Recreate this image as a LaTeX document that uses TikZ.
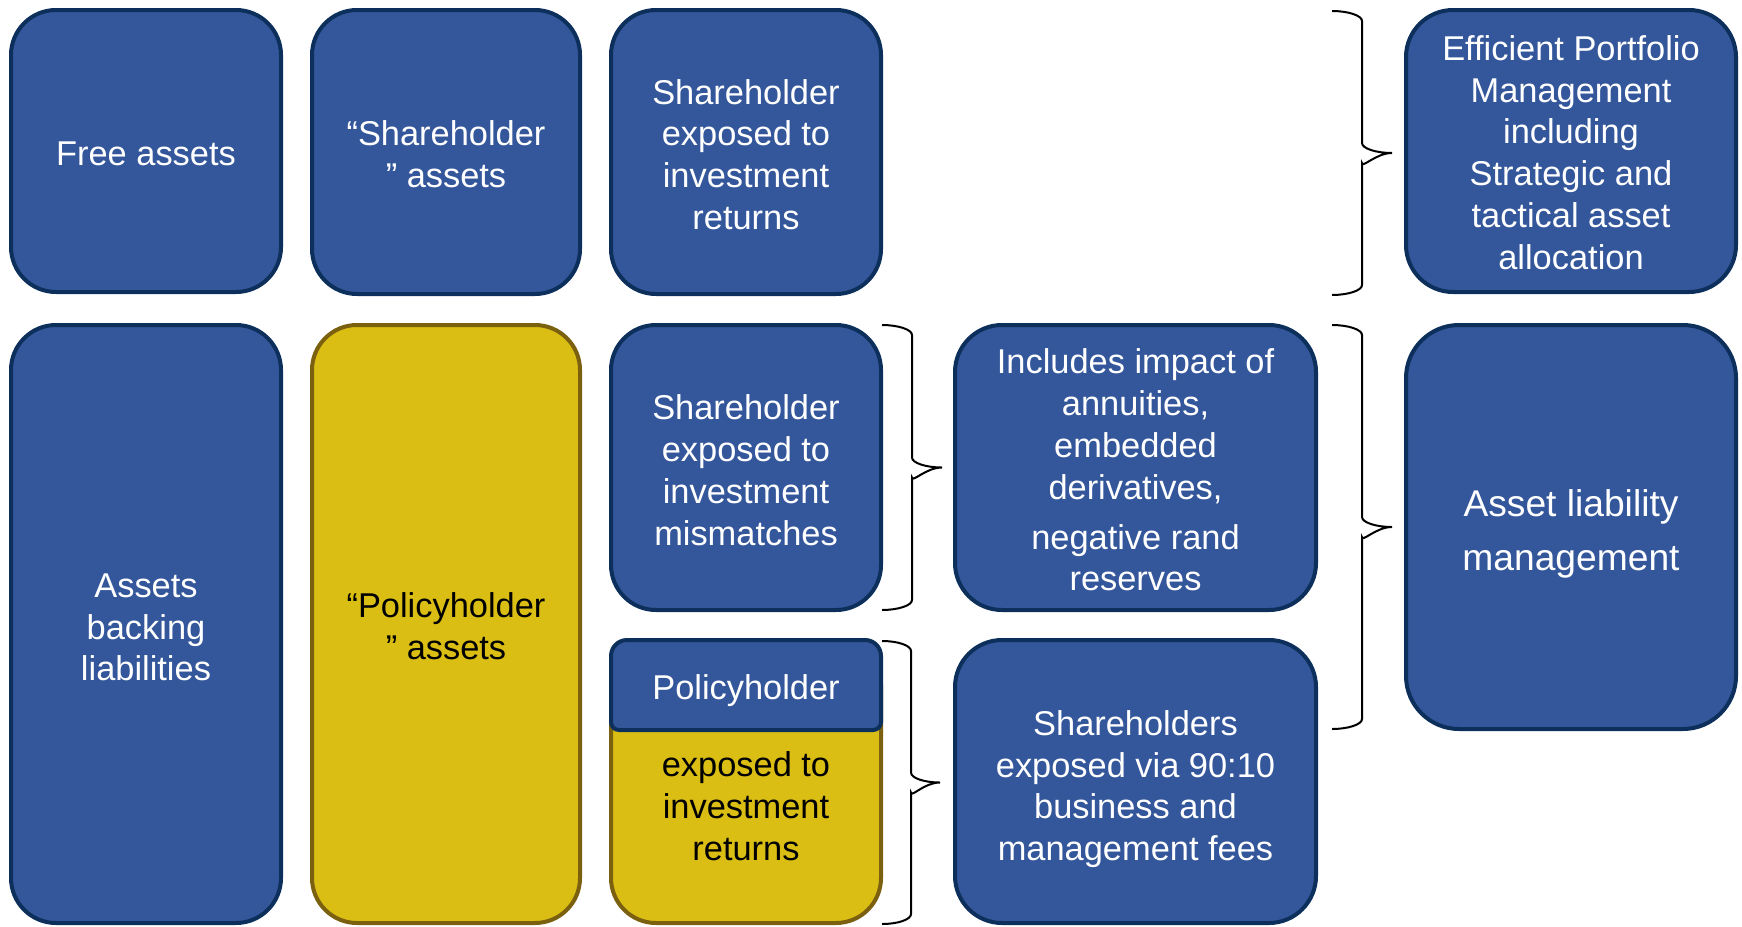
\documentclass[tikz,border=0pt]{standalone}
\usepackage{fontspec}
\setmainfont{Liberation Sans}
\definecolor{boxblue}{HTML}{34579B}
\definecolor{boxnavy}{HTML}{0D2F5B}
\definecolor{boxgold}{HTML}{DABE14}
\definecolor{boxolive}{HTML}{7A600F}
% right-hand curly brace: left x, top y, bottom y, width
\newcommand\drawbrace[4]{%
  \pgfmathsetmacro\bxm{#1+#4/2}%
  \pgfmathsetmacro\bxt{#1+#4}%
  \pgfmathsetmacro\bym{(#2+#3)/2}%
  \draw[bracestyle] (#1,#2) .. controls +(16,0) and +(0,-5.5) .. (\bxm,#2+10)
    -- (\bxm,\bym-10) .. controls +(0,5.5) and +(-16,0) .. (\bxt,\bym)
    .. controls +(-16,0) and +(0,5.5) .. (\bxm,\bym+10)
    -- (\bxm,#3-10) .. controls +(0,5.5) and +(16,0) .. (#1,#3);
}
\begin{document}
\begin{tikzpicture}[x=1pt,y=-1pt,
  txt/.style={align=center, inner sep=0pt, font=\fontsize{34.4}{41.8}\selectfont},
  wtxt/.style={txt, text=white},
  bigtxt/.style={wtxt, font=\fontsize{37.2}{54}\selectfont},
  box/.style={rectangle, draw=boxnavy, fill=boxblue, line width=4pt, inner sep=0pt},
  goldbox/.style={rectangle, draw=boxolive, fill=boxgold, line width=4pt, inner sep=0pt},
  bracestyle/.style={draw=black, line width=2pt}
]
\useasboundingbox (0,0) rectangle (1742,926);

% top row
\node[box, rounded corners=45pt, minimum width=270pt, minimum height=282pt] (free) at (146,151) {};
\node[box, rounded corners=45pt, minimum width=268pt, minimum height=284pt] (shasset) at (446,152) {};
\node[box, rounded corners=45pt, minimum width=270pt, minimum height=284pt] (shret) at (746,152) {};
\node[box, rounded corners=47pt, minimum width=330pt, minimum height=282pt] (epm) at (1571,151) {};

% lower rows
\node[box, rounded corners=45pt, minimum width=270pt, minimum height=598pt] (abl) at (146,624) {};
\node[goldbox, rounded corners=45pt, minimum width=268pt, minimum height=598pt] (phasset) at (446,624) {};
\node[box, rounded corners=45pt, minimum width=270pt, minimum height=285pt] (shmis) at (746,467.5) {};
\node[box, rounded corners=47pt, minimum width=361pt, minimum height=285pt] (incl) at (1135.5,467.5) {};
\node[box, rounded corners=53pt, minimum width=330pt, minimum height=404pt] (alm) at (1571,527) {};
\node[goldbox, rounded corners=45pt, minimum width=270pt, minimum height=283pt] (phbox) at (746,781.5) {};
\node[box, rounded corners=47pt, minimum width=361pt, minimum height=283pt] (sh9010) at (1135.5,781.5) {};

% blue heading over the policyholder box
\draw[draw=boxnavy, fill=boxblue, line width=4pt]
  (611,690) [rounded corners=16pt] -- (611,640) -- (881,640) -- (881,690)
  [rounded corners=8pt] -- (881,730) -- (611,730) -- cycle;

% box texts
\node[wtxt] (free-t) at (146,153.5) {Free assets};
\node[wtxt] (shasset-t) at (446,154) {“Shareholder\\” assets};
\node[wtxt] (shret-t) at (746,154.5) {Shareholder\\exposed to\\investment\\returns};
\node[wtxt] (epm-t) at (1571,152.5) {Efficient Portfolio\\Management\\including\\Strategic and\\tactical asset\\allocation};
\node[wtxt] (abl-t) at (146,627.5) {Assets\\backing\\liabilities};
\node[txt, text=black] (phasset-t) at (446,626.5) {“Policyholder\\” assets};
\node[wtxt] (shmis-t) at (746,470) {Shareholder\\exposed to\\investment\\mismatches};
\node[wtxt] (incl-t) at (1135.5,470) {Includes impact of\\annuities,\\embedded\\derivatives,\\[8pt]negative rand\\reserves};
\node[bigtxt] (alm-t) at (1571,534) {Asset liability\\management};
\node[wtxt] (phhead) at (746,691) {Policyholder};
\node[txt, text=black] (phtext) at (746,806) {exposed to\\investment\\returns};
\node[wtxt] (sh9010-t) at (1135.5,789) {Shareholders\\exposed via 90:10\\business and\\management fees};

% braces
\drawbrace{1332}{11}{295}{60}
\drawbrace{882}{325}{610}{60}
\drawbrace{882}{641}{924}{58}
\drawbrace{1332}{325}{729}{60}
\end{tikzpicture}
\end{document}
